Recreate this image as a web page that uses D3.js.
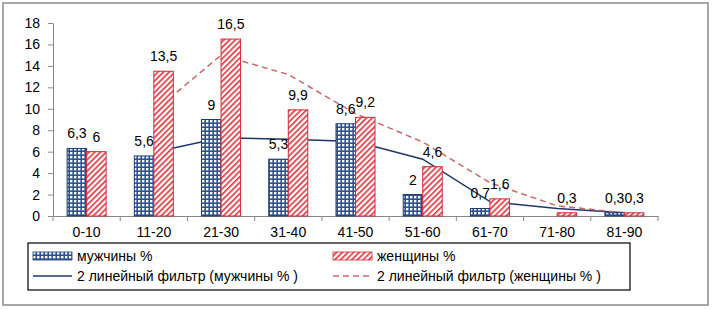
<!DOCTYPE html>
<html>
<head>
<meta charset="utf-8">
<script src="https://cdn.jsdelivr.net/npm/d3@7"></script>
<style>
  body { margin: 0; background: #fff; }
  svg { display: block; font-family: "Liberation Sans", Arial, sans-serif; }
  .axis path, .axis line { stroke: #898989; }
  .axis text { font-size: 14px; fill: #000; }
  .lbl { font-size: 14px; fill: #000; text-anchor: middle; }
  .leg { font-size: 14px; fill: #000; }
</style>
</head>
<body>
<svg class="chart"></svg>
<script>
// age groups
var categories = ["0-10", "11-20", "21-30", "31-40", "41-50", "51-60", "61-70", "71-80", "81-90"];
// мужчины %, null = no value
var men = [6.3, 5.6, 9, 5.3, 8.6, 2, 0.7, null, 0.3];
// женщины %
var women = [6, 13.5, 16.5, 9.9, 9.2, 4.6, 1.6, 0.3, 0.3];
var yTicks = [0, 2, 4, 6, 8, 10, 12, 14, 16, 18];

var seriesNames = ["мужчины %", "женщины %"];
var trendNames = ["2 линейный фильтр (мужчины % )", "2 линейный фильтр (женщины % )"];

function show() {
    'use strict';

    var W = 712, H = 309;
    var margin = {top: 23, left: 53, right: 54, bottom: 93},
        width = W - margin.left - margin.right,
        height = H - margin.top - margin.bottom;

    var svg = d3.select(".chart").attr("width", W).attr("height", H);

    // patterns
    var defs = svg.append("defs");
    var pm = defs.append("pattern").attr("id", "pMen")
        .attr("patternUnits", "userSpaceOnUse").attr("width", 4).attr("height", 4);
    pm.append("rect").attr("width", 4).attr("height", 4).attr("fill", "#2f5193");
    pm.append("rect").attr("x", 1).attr("y", 1).attr("width", 2.4).attr("height", 2.4).attr("fill", "#fff");

    var pw = defs.append("pattern").attr("id", "pWomen")
        .attr("patternUnits", "userSpaceOnUse").attr("width", 4).attr("height", 4)
        .attr("patternTransform", "rotate(45)");
    pw.append("rect").attr("width", 4).attr("height", 4).attr("fill", "#fff");
    pw.append("rect").attr("width", 1.6).attr("height", 4).attr("fill", "#e0303a");

    // outer frame
    svg.append("rect").attr("x", 3).attr("y", 3).attr("width", 705).attr("height", 302)
        .attr("fill", "none").attr("stroke", "#8a8a8a").attr("stroke-width", 1.5);

    var chart = svg.append("g")
        .attr("transform", "translate(" + margin.left + "," + margin.top + ")");

    var x = d3.scaleBand().domain(categories).range([0, width]).padding(0);
    var bw = 19.5;
    var x1 = d3.scaleBand().domain([0, 1])
        .range([x.bandwidth() / 2 - bw, x.bandwidth() / 2 + bw]);
    var y = d3.scaleLinear().domain([0, 18]).range([height, 0]);

    // axes
    chart.append("g").attr("class", "axis")
        .call(d3.axisLeft(y).tickValues(yTicks).tickSize(5).tickSizeOuter(0))
        .call(function(g) { g.selectAll("text").attr("x", -13); });

    var xAxis = chart.append("g").attr("class", "axis")
        .attr("transform", "translate(0," + height + ")")
        .call(d3.axisBottom(x).tickSize(0).tickSizeOuter(0));
    xAxis.selectAll("text").attr("y", 11);
    xAxis.selectAll(".sep").data(d3.range(categories.length + 1)).enter().append("line")
        .attr("class", "sep")
        .attr("x1", function(i) { return i * x.step(); })
        .attr("x2", function(i) { return i * x.step(); })
        .attr("y1", 0).attr("y2", 5);

    // moving averages (period 2), as Excel draws them
    function movingAvg(vals) {
        return vals.map(function(v, i) {
            if (i === 0) return null;
            var pair = [vals[i - 1], v].filter(function(d) { return d != null; });
            return pair.length ? d3.mean(pair) : null;
        });
    }
    var trends = [movingAvg(men), movingAvg(women)];
    var line = d3.line()
        .defined(function(d) { return d.v != null; })
        .x(function(d) { return x(d.c) + x.bandwidth() / 2; })
        .y(function(d) { return y(d.v); });

    var trendStyle = [
        {stroke: "#1f3768", dash: null},
        {stroke: "#c96a6a", dash: "6,4"}
    ];
    trends.forEach(function(t, k) {
        chart.append("path")
            .datum(categories.map(function(c, i) { return {c: c, v: t[i]}; }))
            .attr("fill", "none")
            .attr("stroke", trendStyle[k].stroke)
            .attr("stroke-width", 1.5)
            .attr("stroke-dasharray", trendStyle[k].dash)
            .attr("d", line);
    });

    // bars
    var series = [men, women];
    var barStyle = [
        {fill: "url(#pMen)", stroke: "#1f3a70"},
        {fill: "url(#pWomen)", stroke: "#d02a36"}
    ];
    series.forEach(function(vals, k) {
        var data = categories.map(function(c, i) { return {c: c, v: vals[i]}; })
            .filter(function(d) { return d.v != null; });
        var g = chart.append("g");
        g.selectAll("rect").data(data).enter().append("rect")
            .attr("x", function(d) { return x(d.c) + x1(k); })
            .attr("y", function(d) { return y(d.v); })
            .attr("width", x1.bandwidth())
            .attr("height", function(d) { return y(0) - y(d.v); })
            .attr("fill", barStyle[k].fill)
            .attr("stroke", barStyle[k].stroke)
            .attr("stroke-width", 1);
        g.selectAll("text").data(data).enter().append("text")
            .attr("class", "lbl")
            .attr("x", function(d) { return x(d.c) + x1(k) + x1.bandwidth() / 2; })
            .attr("y", function(d) { return y(d.v) - 10; })
            .text(function(d) { return String(d.v).replace(".", ","); });
    });

    // legend
    var leg = svg.append("g").attr("transform", "translate(28,243)");
    leg.append("rect").attr("width", 602).attr("height", 47)
        .attr("fill", "#fff").attr("stroke", "#000").attr("stroke-width", 1.2);
    var cols = [5, 305];
    [0, 1].forEach(function(k) {
        leg.append("rect").attr("x", cols[k]).attr("y", 9).attr("width", 39).attr("height", 8)
            .attr("fill", barStyle[k].fill).attr("stroke", barStyle[k].stroke).attr("stroke-width", 0.8);
        leg.append("text").attr("class", "leg").attr("x", cols[k] + 44).attr("y", 18).text(seriesNames[k]);
        leg.append("line").attr("x1", cols[k]).attr("x2", cols[k] + 39).attr("y1", 33).attr("y2", 33)
            .attr("stroke", trendStyle[k].stroke).attr("stroke-width", 1.5)
            .attr("stroke-dasharray", trendStyle[k].dash);
        leg.append("text").attr("class", "leg").attr("x", cols[k] + 44).attr("y", 38).text(trendNames[k]);
    });
}
show();
</script>
</body>
</html>
